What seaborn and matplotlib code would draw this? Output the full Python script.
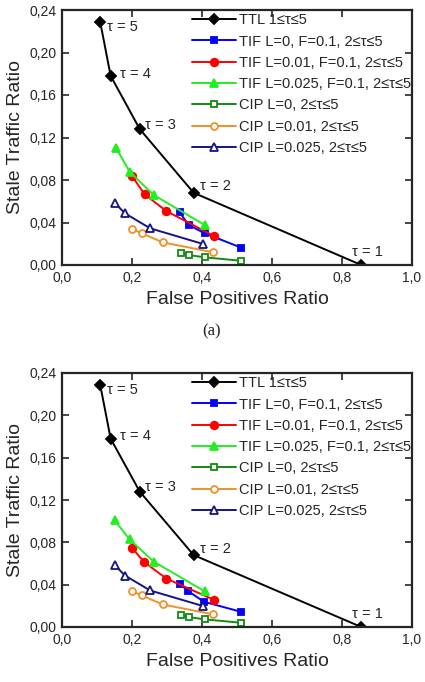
import numpy as np
import pandas as pd
import seaborn as sns
import matplotlib.pyplot as plt
from matplotlib.ticker import FuncFormatter, MultipleLocator

# ---- data ----
tau_vals = [1, 2, 3, 4, 5]
ttl_x = [0.855, 0.376, 0.222, 0.139, 0.109]
ttl_y = [0.000, 0.068, 0.128, 0.178, 0.229]

# panel (a)
tif0_x_a = [0.336, 0.362, 0.408, 0.512]
tif0_y_a = [0.0496, 0.0376, 0.0298, 0.0163]
tif01_x_a = [0.200, 0.236, 0.298, 0.434]
tif01_y_a = [0.0838, 0.0665, 0.0508, 0.0273]
tif025_x_a = [0.155, 0.193, 0.262, 0.408]
tif025_y_a = [0.110, 0.0878, 0.0659, 0.0376]

# panel (b)
tif0_x_b = [0.336, 0.359, 0.406, 0.511]
tif0_y_b = [0.041, 0.0342, 0.0238, 0.0144]
tif01_x_b = [0.200, 0.233, 0.298, 0.434]
tif01_y_b = [0.075, 0.0618, 0.0458, 0.0257]
tif025_x_b = [0.150, 0.193, 0.262, 0.408]
tif025_y_b = [0.101, 0.0828, 0.0618, 0.0336]

# CIP series (same on both panels)
cip0_x = [0.341, 0.362, 0.408, 0.512]
cip0_y = [0.0110, 0.0094, 0.0072, 0.0040]
cip01_x = [0.200, 0.228, 0.288, 0.431]
cip01_y = [0.0339, 0.0298, 0.0213, 0.0120]
cip025_x = [0.150, 0.180, 0.252, 0.403]
cip025_y = [0.0587, 0.0486, 0.0345, 0.0198]

labels = ["TTL 1≤τ≤5",
          "TIF L=0, F=0.1, 2≤τ≤5",
          "TIF L=0.01, F=0.1, 2≤τ≤5",
          "TIF L=0.025, F=0.1, 2≤τ≤5",
          "CIP L=0, 2≤τ≤5",
          "CIP L=0.01, 2≤τ≤5",
          "CIP L=0.025, 2≤τ≤5"]
colors = ["black", "#0000ff", "#ff0000", "#22ee22", "#138a13", "#f0922a", "#141485"]
markers = ["D", "s", "o", "^", "s", "o", "^"]
filled = [True, True, True, True, False, False, False]
msizes = [5.5, 5, 5.5, 6, 4.5, 5, 6]

sns.set_style("ticks")
plt.rcParams['font.family'] = ['Liberation Sans', 'DejaVu Sans']
plt.rcParams['xtick.direction'] = 'in'
plt.rcParams['ytick.direction'] = 'in'

fig = plt.figure(figsize=(4.25, 6.82), dpi=100)


def draw_panel(ax, tif_x, tif_y):
    xs = [ttl_x] + tif_x + [cip0_x, cip01_x, cip025_x]
    ys = [ttl_y] + tif_y + [cip0_y, cip01_y, cip025_y]
    for i in range(len(labels)):
        df = pd.DataFrame({"fp": xs[i], "stale": ys[i]})
        mfc = colors[i] if filled[i] else "white"
        sns.lineplot(data=df, x="fp", y="stale", sort=False, ax=ax,
                     color=colors[i], marker=markers[i], markersize=msizes[i],
                     markerfacecolor=mfc, markeredgecolor=colors[i],
                     markeredgewidth=1.3, linewidth=1.4, label=labels[i])

    # tau annotations next to the TTL curve
    tau_pos = [(0.83, 0.012), (0.395, 0.074), (0.238, 0.132),
               (0.166, 0.180), (0.128, 0.224)]
    for t, (tx, ty) in zip(tau_vals, tau_pos):
        ax.text(tx, ty, "τ = %d" % t, fontsize=10.5, va="center", ha="left")

    ax.set_xlim(0, 1.0)
    ax.set_ylim(0, 0.24)
    ax.xaxis.set_major_locator(MultipleLocator(0.2))
    ax.yaxis.set_major_locator(MultipleLocator(0.04))
    ax.xaxis.set_major_formatter(FuncFormatter(lambda v, p: ("%.1f" % v).replace(".", ",")))
    ax.yaxis.set_major_formatter(FuncFormatter(lambda v, p: ("%.2f" % v).replace(".", ",")))
    ax.tick_params(top=True, right=True, labelsize=10, length=5, width=1.2, pad=4)
    for s in ax.spines.values():
        s.set_linewidth(1.6)
    ax.set_xlabel("False Positives Ratio", fontsize=14, labelpad=5)
    ax.set_ylabel("Stale Traffic Ratio", fontsize=14, labelpad=4)
    ax.legend(loc="upper left", bbox_to_anchor=(0.355, 1.01), frameon=False,
              fontsize=10.5, handlelength=3.0, handletextpad=0.25,
              labelspacing=0.5, borderaxespad=0.2, borderpad=0.2)


ax1 = fig.add_axes([62 / 425, 1 - 265 / 682, 350 / 425, 255 / 682])
draw_panel(ax1, [tif0_x_a, tif01_x_a, tif025_x_a], [tif0_y_a, tif01_y_a, tif025_y_a])

ax2 = fig.add_axes([62 / 425, 1 - 627 / 682, 350 / 425, 254 / 682])
draw_panel(ax2, [tif0_x_b, tif01_x_b, tif025_x_b], [tif0_y_b, tif01_y_b, tif025_y_b])

fig.text(212 / 425, 1 - 331 / 682, "(a)", fontsize=12, ha="center", va="center",
         family="Liberation Serif")

fig.savefig("out.png", dpi=100)
